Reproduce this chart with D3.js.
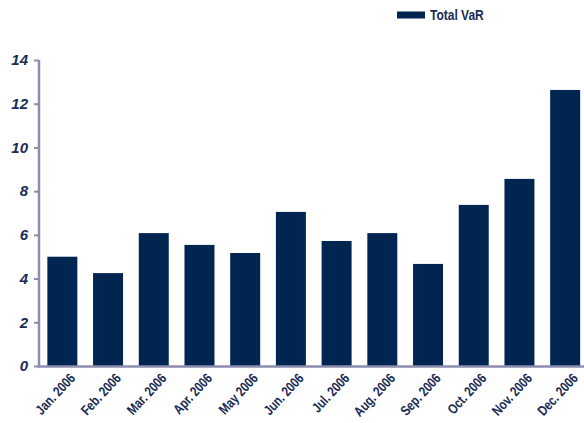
<!DOCTYPE html>
<html><head><meta charset="utf-8">
<script src="https://cdn.jsdelivr.net/npm/d3@7"></script>
<style>body{margin:0;background:#fff}svg{display:block}</style>
</head><body>
<svg id="c" width="584" height="423"></svg>
<script>
const categories = ["Jan. 2006","Feb. 2006","Mar. 2006","Apr. 2006","May 2006","Jun. 2006","Jul. 2006","Aug. 2006","Sep. 2006","Oct. 2006","Nov. 2006","Dec. 2006"];
const totalVaR = [5.0, 4.25, 6.08, 5.54, 5.17, 7.05, 5.72, 6.08, 4.67, 7.37, 8.56, 12.63];
const yTicks = [0, 2, 4, 6, 8, 10, 12, 14];
const seriesName = "Total VaR";

const navy = "#012551";
const axisCol = "#8a8eae";
const txtCol = "#1a2b55";
const svg = d3.select("#c");

const x = d3.scaleBand().domain(categories).range([40.5, 587]).paddingInner(0.344).paddingOuter(0.15);
const y = d3.scaleLinear().domain([0, 14]).range([366, 60]);

svg.append("g").selectAll("rect").data(totalVaR).join("rect")
  .attr("x", (d, i) => x(categories[i]))
  .attr("width", x.bandwidth())
  .attr("y", d => y(d))
  .attr("height", d => y(0) - y(d))
  .attr("fill", navy);

// Y axis
const ya = svg.append("g").attr("transform", "translate(39,0)")
  .call(d3.axisLeft(y).tickValues(yTicks).tickSize(5).tickPadding(6));
ya.select(".domain").attr("stroke", axisCol).attr("stroke-width", 2.5).attr("d", "M0,60H0V367");
ya.selectAll(".tick line").attr("stroke", axisCol).attr("stroke-width", 2);
ya.selectAll(".tick text").attr("fill", txtCol)
  .style("font-family", "'Liberation Sans', Arial, sans-serif")
  .style("font-size", "15px").style("font-weight", "bold").style("font-style", "italic");

// X axis
const xa = svg.append("g").attr("transform", "translate(0,366.5)")
  .call(d3.axisBottom(x).tickSize(0).tickPadding(0));
xa.select(".domain").attr("stroke", axisCol).attr("stroke-width", 2.5).attr("d", "M38,0H584");
xa.selectAll(".tick text").attr("fill", txtCol)
  .style("font-family", "'Liberation Sans', Arial, sans-serif")
  .style("font-size", "14px").style("font-weight", "bold")
  .attr("text-anchor", "end")
  .attr("transform", "translate(10,9) rotate(-47) scale(0.8,1)")
  .attr("dy", "0.35em");

// Legend
const lg = svg.append("g");
lg.append("rect").attr("x", 397).attr("y", 11.5).attr("width", 28).attr("height", 7).attr("fill", navy);
lg.append("text").attr("transform", "translate(430,19.5) scale(0.8,1)").text(seriesName)
  .attr("fill", txtCol)
  .style("font-family", "'Liberation Sans', Arial, sans-serif")
  .style("font-size", "15px").style("font-weight", "bold");
</script>
</body></html>
